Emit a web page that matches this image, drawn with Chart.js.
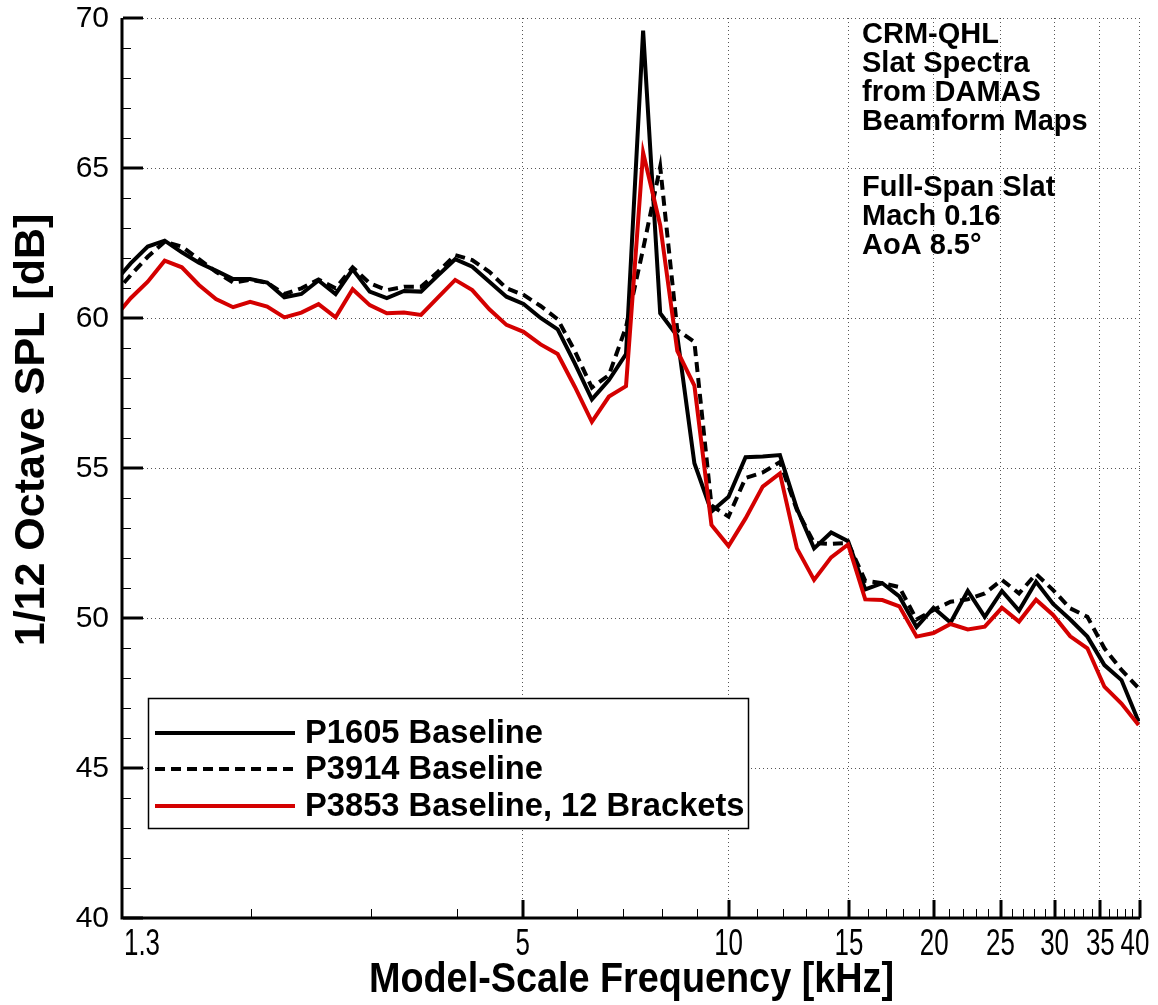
<!DOCTYPE html>
<html lang="en">
<head>
  <meta charset="UTF-8">
  <title>CRM-QHL Slat Spectra</title>
  <script src="https://cdn.jsdelivr.net/npm/chart.js"></script>
  <style>
    html, body { margin: 0; padding: 0; background: #fff; }
    canvas { display: block; }
  </style>
</head>
<body>
  <canvas id="chart" width="1158" height="1005"></canvas>

  <script>
    // 1/12-octave band centre frequencies [kHz]
    const freqs = [1.259, 1.334, 1.413, 1.496, 1.585, 1.679, 1.778, 1.884, 1.995, 2.113,
                   2.239, 2.371, 2.512, 2.661, 2.818, 2.985, 3.162, 3.350, 3.548, 3.758,
                   3.981, 4.217, 4.467, 4.732, 5.012, 5.309, 5.623, 5.957, 6.310, 6.683,
                   7.079, 7.499, 7.943, 8.414, 8.913, 9.441, 10.00, 10.59, 11.22, 11.89,
                   12.59, 13.34, 14.13, 14.96, 15.85, 16.79, 17.78, 18.84, 19.95, 21.13,
                   22.39, 23.71, 25.12, 26.61, 28.18, 29.85, 31.62, 33.50, 35.48, 37.58, 39.81];

    const p1605 = [61.16, 61.82, 62.38, 62.58, 62.19, 61.84, 61.58, 61.30, 61.30, 61.18,
                   60.69, 60.80, 61.25, 60.80, 61.62, 60.88, 60.66, 60.90, 60.88, 61.42,
                   61.96, 61.71, 61.21, 60.71, 60.47, 60.00, 59.62, 58.49, 57.29, 57.93,
                   58.80, 69.58, 60.16, 59.40, 55.16, 53.55, 54.04, 55.36, 55.38, 55.43,
                   53.65, 52.32, 52.85, 52.56, 50.95, 51.16, 50.72, 49.70, 50.34, 49.85,
                   50.90, 50.04, 50.90, 50.25, 51.21, 50.47, 49.95, 49.38, 48.43, 47.93, 46.55];

    const p3914 = [60.77, 61.43, 62.04, 62.54, 62.38, 61.96, 61.54, 61.18, 61.27, 61.18,
                   60.80, 60.99, 61.28, 60.99, 61.69, 61.16, 60.93, 61.04, 61.04, 61.54,
                   62.10, 61.93, 61.54, 60.99, 60.77, 60.40, 59.96, 58.90, 57.68, 58.10,
                   59.70, 62.30, 65.04, 59.60, 59.20, 53.75, 53.38, 54.67, 54.85, 55.20,
                   53.60, 52.50, 52.47, 52.50, 51.24, 51.16, 51.03, 49.95, 50.27, 50.54,
                   50.62, 50.82, 51.27, 50.82, 51.47, 50.93, 50.32, 50.04, 48.99, 48.27, 47.66];

    const p3853 = [59.98, 60.66, 61.21, 61.91, 61.69, 61.10, 60.63, 60.36, 60.54, 60.38,
                   60.02, 60.18, 60.46, 60.02, 60.96, 60.43, 60.16, 60.18, 60.10, 60.69,
                   61.27, 60.93, 60.29, 59.77, 59.54, 59.12, 58.80, 57.71, 56.54, 57.38,
                   57.73, 65.51, 63.10, 58.90, 57.75, 53.10, 52.40, 53.32, 54.38, 54.82,
                   52.32, 51.27, 52.02, 52.45, 50.62, 50.60, 50.39, 49.38, 49.50, 49.80,
                   49.62, 49.71, 50.34, 49.88, 50.61, 50.10, 49.39, 48.99, 47.71, 47.15, 46.43];

    const xTicks = [1.3, 5, 10, 15, 20, 25, 30, 35, 40];
    const xMinor = [2, 3, 4, 6, 7, 8, 9, 11, 12, 13, 14, 16, 17, 18, 19, 21, 22, 23, 24,
                    26, 27, 28, 29, 31, 32, 33, 34, 36, 37, 38, 39];
    const yTicks = [40, 45, 50, 55, 60, 65, 70];
    const yMinor = [41, 42, 43, 44, 46, 47, 48, 49, 51, 52, 53, 54, 56, 57, 58, 59,
                    61, 62, 63, 64, 66, 67, 68, 69];

    const notes = ['CRM-QHL', 'Slat Spectra', 'from DAMAS', 'Beamform Maps', '',
                   'Full-Span Slat', 'Mach 0.16', 'AoA 8.5\u00B0'];

    const FONT = '"Liberation Sans", Arial, sans-serif';

    function toPoints(vals) {
      return freqs.map((f, i) => ({ x: f, y: vals[i] }));
    }

    // text squeezed horizontally (the original uses a condensed face)
    function squeezed(ctx, text, x, y, sx) {
      ctx.save();
      ctx.translate(x, y);
      ctx.scale(sx, 1);
      ctx.fillText(text, 0, 0);
      ctx.restore();
    }

    // grid, inward ticks, tick labels, legend box, notes and axis titles
    const frame = {
      id: 'frame',
      beforeDatasetsDraw(chart) {
        const { ctx, chartArea: a, scales: { x, y } } = chart;
        ctx.save();
        ctx.strokeStyle = '#555';
        ctx.lineWidth = 1;
        ctx.setLineDash([1, 3]);
        ctx.beginPath();
        yTicks.slice(1).forEach(v => {
          const py = Math.round(y.getPixelForValue(v)) + 0.5;
          ctx.moveTo(a.left, py); ctx.lineTo(a.right, py);
        });
        xTicks.slice(1).forEach(v => {
          const px = Math.round(x.getPixelForValue(v)) - 0.5;
          ctx.moveTo(px, a.top); ctx.lineTo(px, a.bottom);
        });
        ctx.stroke();
        ctx.restore();
      },
      afterDatasetsDraw(chart) {
        const { ctx, chartArea: a, scales: { x, y } } = chart;
        ctx.save();
        ctx.strokeStyle = '#000';

        // minor ticks
        ctx.lineWidth = 1;
        ctx.beginPath();
        yMinor.forEach(v => {
          const py = Math.round(y.getPixelForValue(v)) + 0.5;
          ctx.moveTo(a.left, py); ctx.lineTo(a.left + 8, py);
        });
        xMinor.forEach(v => {
          const px = Math.round(x.getPixelForValue(v)) + 0.5;
          ctx.moveTo(px, a.bottom); ctx.lineTo(px, a.bottom - 9);
        });
        ctx.stroke();

        // major ticks
        ctx.lineWidth = 3;
        ctx.beginPath();
        yTicks.forEach(v => {
          const py = Math.round(y.getPixelForValue(v));
          ctx.moveTo(a.left, py); ctx.lineTo(a.left + 20, py);
        });
        xTicks.slice(1).forEach(v => {
          const px = Math.round(x.getPixelForValue(v));
          ctx.moveTo(px, a.bottom); ctx.lineTo(px, a.bottom - 18);
        });
        ctx.stroke();

        // axis lines
        ctx.beginPath();
        ctx.moveTo(a.left - 1, a.top);
        ctx.lineTo(a.left - 1, a.bottom);
        ctx.lineTo(a.right, a.bottom);
        ctx.stroke();

        // tick labels
        ctx.fillStyle = '#000';
        ctx.font = '30px ' + FONT;
        ctx.textAlign = 'right';
        ctx.textBaseline = 'middle';
        yTicks.forEach(v => ctx.fillText(String(v), 109, y.getPixelForValue(v) + 1));

        ctx.font = '36px ' + FONT;
        ctx.textBaseline = 'alphabetic';
        xTicks.forEach((v, i) => {
          const px = x.getPixelForValue(v);
          if (i === 0) {
            ctx.textAlign = 'left';
            squeezed(ctx, String(v), px + 1, 955, 0.72);
          } else {
            ctx.textAlign = 'center';
            squeezed(ctx, String(v), i === xTicks.length - 1 ? px - 5 : px, 955, 0.72);
          }
        });

        // legend
        ctx.fillStyle = '#fff';
        ctx.lineWidth = 1.5;
        ctx.fillRect(148, 698, 600, 130);
        ctx.strokeRect(148.5, 698.5, 600, 130);
        const rows = [733, 769, 806];
        ctx.textAlign = 'left';
        chart.data.datasets.forEach((ds, i) => {
          ctx.strokeStyle = ds.borderColor;
          ctx.lineWidth = ds.borderWidth;
          ctx.setLineDash(ds.borderDash || []);
          ctx.beginPath();
          ctx.moveTo(155, rows[i]); ctx.lineTo(295, rows[i]);
          ctx.stroke();
          ctx.setLineDash([]);
          ctx.fillStyle = '#000';
          ctx.font = 'bold 33px ' + FONT;
          ctx.textBaseline = 'middle';
          squeezed(ctx, ds.label, 305, rows[i] + 1, 0.99);
        });

        // notes, top right
        ctx.font = 'bold 29px ' + FONT;
        ctx.textBaseline = 'alphabetic';
        let ny = 43;
        notes.forEach(t => {
          ctx.fillText(t, 862, ny);
          ny += t === '' ? 37 : 29;
        });

        // axis titles
        ctx.textAlign = 'center';
        ctx.font = 'bold 42px ' + FONT;
        squeezed(ctx, 'Model-Scale Frequency [kHz]', (a.left + a.right) / 2, 992, 0.9);
        ctx.translate(44, 430);
        ctx.rotate(-Math.PI / 2);
        ctx.font = 'bold 43px ' + FONT;
        ctx.fillText('1/12 Octave SPL [dB]', 0, 0);
        ctx.restore();
      }
    };

    new Chart(document.getElementById('chart'), {
      type: 'line',
      data: {
        datasets: [
          { label: 'P1605 Baseline', data: toPoints(p1605), borderColor: '#000',
            borderWidth: 4, order: 3 },
          { label: 'P3914 Baseline', data: toPoints(p3914), borderColor: '#000',
            borderWidth: 4, borderDash: [10, 6], order: 2 },
          { label: 'P3853 Baseline, 12 Brackets', data: toPoints(p3853), borderColor: '#d40000',
            borderWidth: 4, order: 1 }
        ]
      },
      options: {
        responsive: false,
        animation: false,
        devicePixelRatio: 1,
        layout: { padding: { top: 18, right: 18, left: 0, bottom: 0 } },
        elements: {
          point: { radius: 0 },
          line: { tension: 0, borderJoinStyle: 'miter', borderCapStyle: 'butt', fill: false }
        },
        datasets: { line: { clip: 0 } },
        plugins: { legend: { display: false }, tooltip: { enabled: false } },
        scales: {
          x: {
            type: 'logarithmic',
            min: 1.3,
            max: 40,
            afterFit: s => { s.height = 87; },
            grid: { display: false },
            border: { display: false },
            ticks: { display: false }
          },
          y: {
            min: 40,
            max: 70,
            afterFit: s => { s.width = 123; },
            grid: { display: false },
            border: { display: false },
            ticks: { display: false }
          }
        }
      },
      plugins: [frame]
    });
  </script>
</body>
</html>
